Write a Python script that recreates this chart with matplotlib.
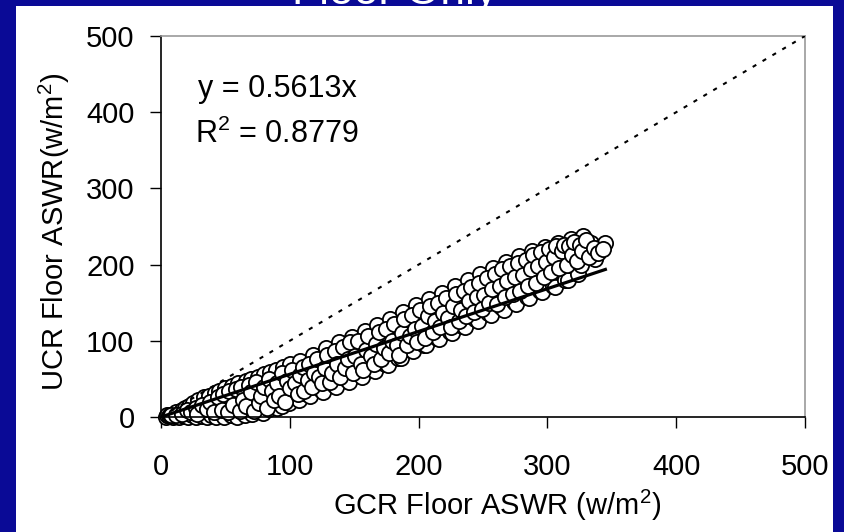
import matplotlib
matplotlib.use("Agg")
import matplotlib.pyplot as plt
from matplotlib.patches import Rectangle
import numpy as np

plt.rcParams["font.family"] = ["Liberation Sans", "DejaVu Sans"]
plt.rcParams["mathtext.fontset"] = "custom"
plt.rcParams["mathtext.rm"] = "Liberation Sans"

# GCR floor ASWR (x) vs UCR floor ASWR (y)
gcr = [4, 5, 6, 7, 9, 10, 11, 12, 13, 14, 15, 16, 17, 18, 19, 20, 21, 22,
       24, 25, 26, 27, 29, 30, 31, 32, 33, 34, 35, 36, 37, 39, 40, 41, 42, 43,
       44, 45, 46, 47, 49, 50, 51, 52, 53, 54, 55, 56, 57, 58, 59, 60, 61, 62, 63,
       64, 65, 66, 67, 68, 69, 70, 71, 72, 73, 74, 75, 76, 77, 78, 79, 80, 81, 82, 83,
       84, 85, 86, 87, 88, 89, 90, 91, 92, 93, 94, 95, 96, 97, 98, 99, 100, 101, 103, 104,
       107, 108, 110, 112, 113, 116, 118, 120, 122, 124, 126, 128, 130, 132, 134,
       136, 138, 140, 142, 144, 146, 148, 150, 152, 154, 156, 158, 160, 162, 164,
       166, 168, 170, 172, 174, 176, 178, 180, 182, 184, 186, 188, 190, 192, 194,
       196, 198, 200, 202, 204, 206, 208, 210, 212, 214, 216, 218, 220, 222, 224,
       226, 228, 230, 232, 234, 236, 238, 240, 242, 244, 246, 248, 250, 252, 254,
       256, 258, 260, 262, 264, 266, 268, 270, 272, 274, 276, 278, 280, 282, 284,
       286, 288, 290, 292, 294, 296, 298, 300, 302, 304, 306, 308, 310, 312, 314,
       316, 318, 320, 322, 324, 326, 328, 331, 334, 337, 340, 345,
       8, 12, 16, 20, 23, 27, 28, 32, 36, 38, 41, 44, 47, 48, 52, 53, 56, 58, 61, 62,
       64, 66, 68, 70, 72, 74, 76, 78, 80, 82, 84, 86, 88, 90, 92, 94, 96, 98, 100, 102,
       104, 106, 108, 110, 111, 114, 115, 117, 119, 121, 123, 125, 127, 129, 131, 133,
       135, 137, 139, 141, 143, 145, 147, 149, 151, 153, 155, 157, 159, 161, 163, 165,
       167, 169, 171, 173, 175, 177, 179, 181, 183, 185, 187, 189, 191, 193, 195, 197,
       199, 201, 203, 205, 207, 209, 211, 213, 215, 217, 219, 221, 223, 225, 227, 229,
       231, 233, 235, 237, 239, 241, 243, 245, 247, 249, 251, 253, 255, 257, 259, 261,
       263, 265, 267, 269, 271, 273, 275, 277, 279, 281, 283, 285, 287, 289, 291, 293,
       295, 297, 299, 301, 303, 305, 307, 309, 311, 313, 315, 317, 319, 321, 323, 325,
       327, 330, 332, 336, 339, 343]
ucr = [0, 2, 1, 3, 0, 4, 1, 6, 2, 0, 5, 9, 2, 1, 12, 6, 0, 15,
       3, 18, 9, 0, 22, 5, 13, 1, 26, 8, 17, 0, 28, 3, 21, 11, 31, 0,
       15, 34, 5, 24, 0, 38, 10, 27, 18, 2, 41, 22, 12, 31, 0, 44, 16, 27, 6,
       35, 2, 47, 20, 10, 29, 50, 4, 15, 39, 24, 53, 8, 33, 44, 5, 56, 19, 30, 47,
       10, 59, 25, 40, 16, 62, 12, 33, 50, 22, 15, 66, 28, 42, 55, 18, 70, 35, 52, 26,
       22, 74, 41, 59, 30, 27, 82, 46, 66, 36, 33, 90, 52, 72, 42,
       40, 98, 60, 80, 50, 46, 105, 66, 88, 56, 53, 113, 74, 95, 63,
       60, 121, 82, 102, 70, 68, 129, 90, 110, 78, 78, 138, 99, 120, 88,
       86, 147, 108, 128, 95, 94, 155, 116, 136, 104, 103, 163, 124, 145, 112,
       110, 172, 132, 153, 120, 118, 180, 140, 162, 128, 126, 188, 148, 170, 136,
       134, 196, 156, 178, 144, 141, 204, 163, 186, 151, 148, 211, 170, 193, 158,
       156, 218, 178, 200, 166, 164, 223, 185, 207, 172, 171, 229, 192, 214, 180,
       180, 234, 199, 221, 188, 200, 237, 215, 228, 208, 222, 228,
       2, 3, 4, 9, 7, 12, 4, 16, 11, 20, 6, 26, 9, 30, 6, 34, 16, 37, 8, 40,
       22, 14, 42, 33, 8, 46, 18, 28, 40, 12, 50, 34, 22, 44, 28, 58, 20, 47, 38, 62,
       45, 30, 55, 65, 34, 48, 70, 40, 58, 76, 52, 44,
       64, 82, 46, 58, 86, 70, 52, 92, 64, 76, 98, 58, 80, 100, 70, 62,
       88, 106, 80, 70, 96, 112, 76, 90, 116, 84, 100, 122, 94, 82, 110, 128,
       94, 106, 134, 116, 98, 140, 120, 104, 132, 146, 112, 126, 150, 118, 136, 156,
       130, 118, 146, 162, 126, 140, 166, 132, 152, 170, 138, 158, 176, 142, 160, 182,
       150, 168, 188, 148, 172, 194, 158, 178, 198, 162, 184, 202, 166, 186, 206, 172,
       194, 212, 176, 198, 216, 184, 204, 220, 190, 210, 224, 196, 218, 226, 200, 224,
       212, 230, 205, 226, 218, 232, 210, 222, 215, 220]

slope = 0.5613
r_squared = 0.8779
x_ticks = [0, 100, 200, 300, 400, 500]
y_ticks = [0, 100, 200, 300, 400, 500]

BLUE = "#0a0a96"
W, H = 844, 532

fig = plt.figure(figsize=(W / 100, H / 100), dpi=100)
fig.patch.set_facecolor(BLUE)

# white slide panel
fig.add_artist(Rectangle((16 / W, 0), (833 - 16) / W, 1 - 6 / H,
                         transform=fig.transFigure, facecolor="white",
                         edgecolor="none", zorder=0))
# slide title, mostly hidden above the panel
fig.text(395 / W, 1 - 4 / H, "Floor Only", color="white", fontsize=32,
         ha="center", va="baseline", zorder=0.5)

left, right, top, bottom = 161, 805, 36, 417
ax = fig.add_axes([left / W, 1 - bottom / H, (right - left) / W, (bottom - top) / H])
ax.set_facecolor("white")

ax.scatter(gcr, ucr, s=120, facecolor="white", edgecolor="black",
           linewidth=1.3, zorder=2, clip_on=False)

# trend line through origin over data range
xs = np.array([min(gcr), max(gcr)])
ax.plot(xs, slope * xs, color="black", linewidth=2.3, zorder=3)

# 1:1 line
ax.plot([0, 500], [0, 500], color="black", linewidth=1.5,
        linestyle=(0, (2, 3.5)), zorder=3)

ax.set_xlim(0, 500)
ax.set_ylim(0, 500)
ax.set_xticks(x_ticks)
ax.set_yticks(y_ticks)
ax.tick_params(direction="out", length=8, width=1, labelsize=21, colors="black")
ax.tick_params(axis="x", pad=18)
ax.tick_params(axis="y", pad=11)

for side in ("left", "bottom"):
    ax.spines[side].set_color("black")
    ax.spines[side].set_linewidth(1.2)
for side in ("top", "right"):
    ax.spines[side].set_color("#999999")
    ax.spines[side].set_linewidth(1.2)

ax.set_xlabel(r"GCR Floor ASWR (w/m$\mathregular{^2}$)", fontsize=21)
ax.set_ylabel(r"UCR Floor ASWR(w/m$\mathregular{^2}$)", fontsize=21)
ax.xaxis.label.set_va("center")
ax.yaxis.label.set_va("center")
ax.xaxis.set_label_coords((497 - left) / (right - left), (bottom - 505) / (bottom - top))
ax.yaxis.set_label_coords((54 - left) / (right - left), (bottom - 232) / (bottom - top))

ax.text((198 - left) / (right - left), (bottom - 89) / (bottom - top), "y = 0.5613x",
        transform=ax.transAxes, fontsize=22, va="center")
ax.text((195 - left) / (right - left), (bottom - 134) / (bottom - top),
        r"R$\mathregular{^2}$ = 0.8779", transform=ax.transAxes, fontsize=22, va="center")

# blue edge on the right covers spill-over text
fig.add_artist(Rectangle((833 / W, 0), 11 / W, 1, transform=fig.transFigure,
                         facecolor=BLUE, edgecolor="none", zorder=10))

fig.savefig("out.png", dpi=100, facecolor=fig.get_facecolor())
